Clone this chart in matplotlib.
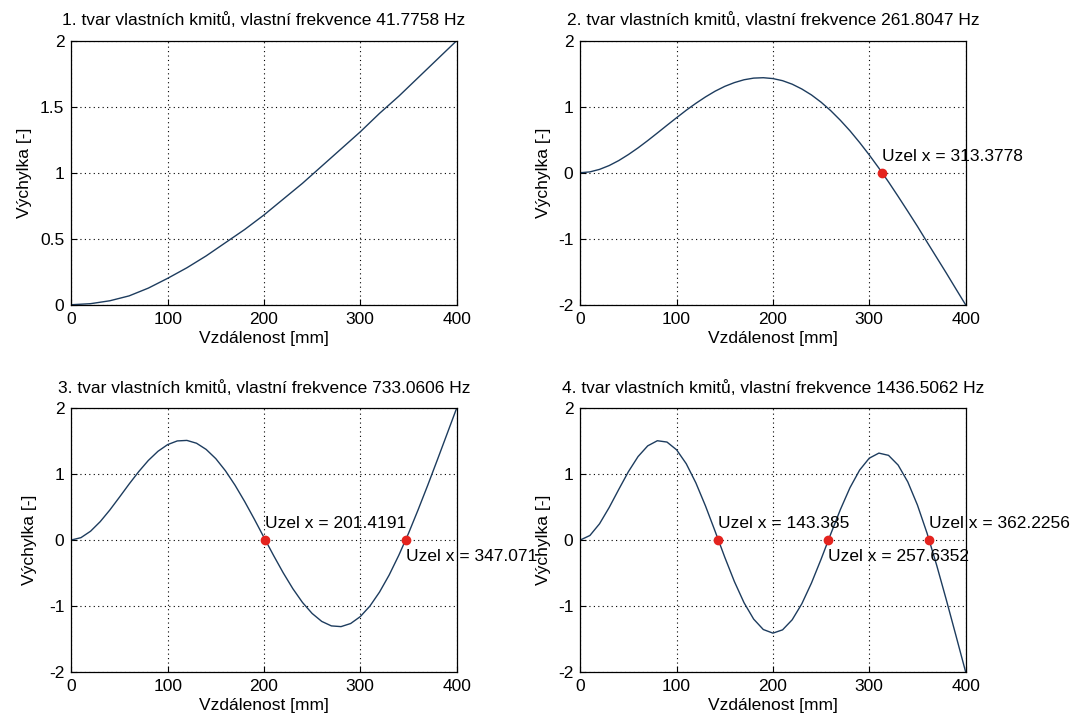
import matplotlib
matplotlib.use("Agg")
import matplotlib.pyplot as plt

plt.rcParams['font.family'] = ['Liberation Sans', 'DejaVu Sans']
plt.rcParams['font.size'] = 12.5
plt.rcParams['axes.unicode_minus'] = False

# poloha na nosniku [mm]
x20 = [0, 20, 40, 60, 80, 100, 120, 140, 160, 180, 200,
       220, 240, 260, 280, 300, 320, 340, 360, 380, 400]
x10 = [0, 10, 20, 30, 40, 50, 60, 70, 80, 90, 100, 110, 120, 130, 140, 150,
       160, 170, 180, 190, 200, 210, 220, 230, 240, 250, 260, 270, 280, 290,
       300, 310, 320, 330, 340, 350, 360, 370, 380, 390, 400]

# vychylky jednotlivych tvaru
mode1 = [0, 0.008, 0.03, 0.067, 0.126, 0.2, 0.28, 0.37, 0.47, 0.57, 0.68,
         0.8, 0.92, 1.05, 1.18, 1.31, 1.45, 1.58, 1.72, 1.86, 2.0]
mode2 = [0, 0.013, 0.051, 0.109, 0.185, 0.276, 0.377, 0.487, 0.602, 0.719, 0.834,
         0.947, 1.052, 1.149, 1.236, 1.309, 1.366, 1.409, 1.434, 1.44, 1.427,
         1.395, 1.342, 1.269, 1.179, 1.069, 0.941, 0.795, 0.635, 0.458, 0.27,
         0.07, -0.139, -0.359, -0.584, -0.812, -1.05, -1.285, -1.52, -1.761, -2.0]
mode3 = [0, 0.036, 0.134, 0.279, 0.456, 0.651, 0.85, 1.039, 1.209, 1.348, 1.449,
         1.505, 1.513, 1.47, 1.376, 1.236, 1.052, 0.832, 0.584, 0.317, 0.04,
         -0.235, -0.498, -0.739, -0.948, -1.115, -1.236, -1.304, -1.315, -1.268, -1.163,
         -1.003, -0.79, -0.531, -0.231, 0.099, 0.458, 0.831, 1.217, 1.608, 2.0]
mode4 = [0, 0.069, 0.247, 0.494, 0.77, 1.039, 1.268, 1.43, 1.508, 1.488, 1.37,
         1.159, 0.868, 0.517, 0.132, -0.261, -0.631, -0.952, -1.201, -1.359, -1.414,
         -1.364, -1.211, -0.968, -0.653, -0.291, 0.091, 0.462, 0.795, 1.062, 1.243,
         1.32, 1.286, 1.138, 0.883, 0.532, 0.104, -0.383, -0.908, -1.451, -2.0]

freqs = ['41.7758', '261.8047', '733.0606', '1436.5062']
nodes2 = [313.3778]
nodes3 = [201.4191, 347.071]
nodes4 = [143.385, 257.6352, 362.2256]
node_labels2 = ['313.3778']
node_labels3 = ['201.4191', '347.071']
node_labels4 = ['143.385', '257.6352', '362.2256']

line_col = '#1d3c5e'
node_col = '#e4231e'

fig = plt.figure(figsize=(10.82, 7.24), dpi=100)
fig.patch.set_facecolor('white')

rects = [[0.0659, 0.5791, 0.3561, 0.3646],
         [0.5363, 0.5791, 0.3561, 0.3646],
         [0.0659, 0.0722, 0.3561, 0.3638],
         [0.5363, 0.0722, 0.3561, 0.3638]]

xs = [x20, x10, x10, x10]
ys = [mode1, mode2, mode3, mode4]
nodes = [[], nodes2, nodes3, nodes4]
nlabels = [[], node_labels2, node_labels3, node_labels4]
ylab_x = [-0.103, -0.076, -0.09, -0.076]

for i in range(4):
    ax = fig.add_axes(rects[i])
    ax.plot(xs[i], ys[i], color=line_col, lw=1.0)
    for j, (nx, nl) in enumerate(zip(nodes[i], nlabels[i])):
        ax.plot(nx, 0, 'o', color=node_col, ms=6, zorder=5)
        ty = 0.25 if j % 2 == 0 else -0.25
        ax.text(nx, ty, 'Uzel x = ' + nl, ha='left', va='center', clip_on=False, zorder=6)
    ax.set_xlim(0, 400)
    ax.set_xticks([0, 100, 200, 300, 400])
    if i == 0:
        ax.set_ylim(0, 2)
        ax.set_yticks([0, 0.5, 1, 1.5, 2])
        ax.set_yticklabels(['0', '0.5', '1', '1.5', '2'])
    else:
        ax.set_ylim(-2, 2)
        ax.set_yticks([-2, -1, 0, 1, 2])
    ax.grid(True, color='black', linestyle=(0, (1, 3)), linewidth=0.8)
    ax.tick_params(direction='in', length=4, width=0.8, pad=5, labelsize=12.5)
    for s in ax.spines.values():
        s.set_linewidth(0.9)
    ax.set_title(f'{i + 1}. tvar vlastních kmitů, vlastní frekvence {freqs[i]} Hz',
                 fontsize=12.5, pad=11)
    ax.set_xlabel('Vzdálenost [mm]', labelpad=3)
    ax.set_ylabel('Výchylka [-]')
    ax.yaxis.set_label_coords(ylab_x[i], 0.5)

fig.savefig('out.png', dpi=100)
